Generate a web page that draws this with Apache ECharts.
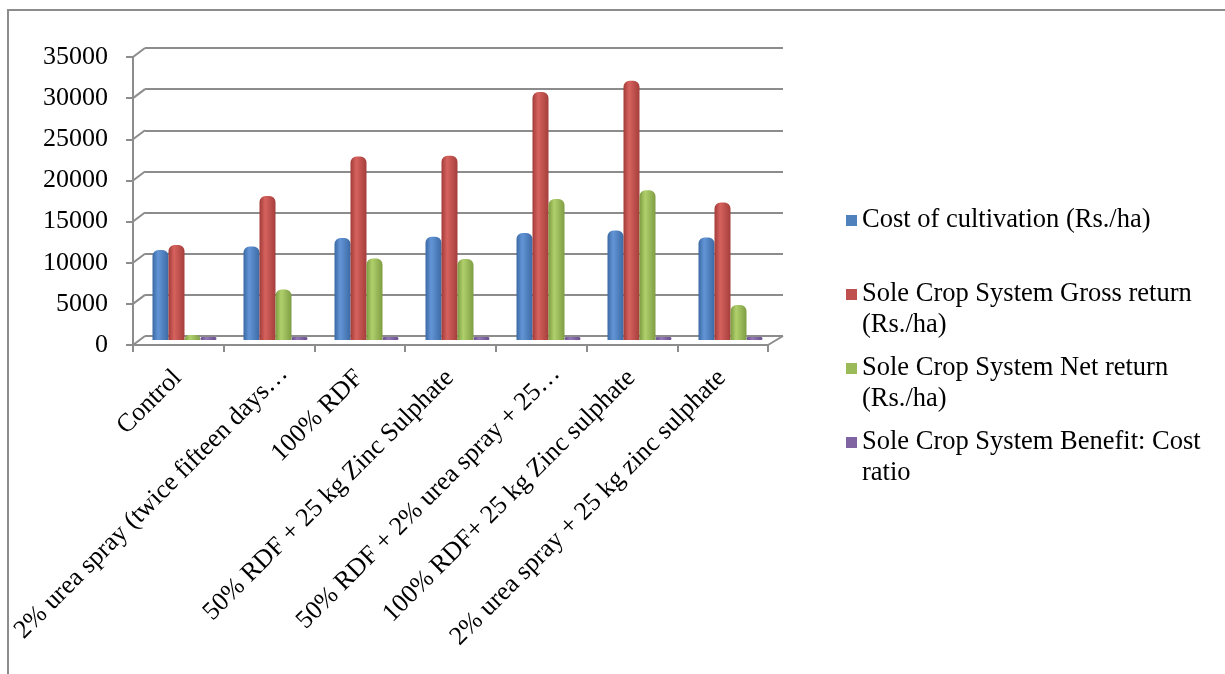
<!DOCTYPE html>
<html>
<head>
<meta charset="utf-8">
<title>Economics of treatments</title>
<script src="https://cdn.jsdelivr.net/npm/echarts@6/dist/echarts.min.js"></script>
<style>
    html, body { margin: 0; padding: 0; background: #fff; }
    #main { width: 1225px; height: 674px; }
</style>
</head>
<body>
<div id="main"></div>
<script>
// 处理
const categories = [
    'Control',
    '2% urea spray (twice fifteen days…',
    '100% RDF',
    '50% RDF + 25 kg Zinc Sulphate',
    '50% RDF + 2% urea spray + 25…',
    '100% RDF+ 25 kg Zinc sulphate',
    '2% urea spray + 25 kg zinc sulphate',
];
// 图例名称
const seriesNames = [
    'Cost of cultivation (Rs./ha)',
    'Sole Crop System Gross return (Rs./ha)',
    'Sole Crop System Net return (Rs./ha)',
    'Sole Crop System Benefit: Cost ratio',
];
// 数值
const costOfCultivation = [10950, 11350, 12400, 12550, 13000, 13300, 12450];
const grossReturn = [11550, 17500, 22300, 22400, 30150, 31500, 16700];
const netReturn = [600, 6150, 9900, 9850, 17150, 18200, 4250];
const benefitCostRatio = [1.05, 1.54, 1.8, 1.78, 2.32, 2.37, 1.34];
const yTicks = { min: 0, max: 35000, interval: 5000 };

const legendLabels = {
    'Cost of cultivation (Rs./ha)': 'Cost of cultivation (Rs./ha)\n ',
    'Sole Crop System Gross return (Rs./ha)': 'Sole Crop System Gross return\n(Rs./ha)',
    'Sole Crop System Net return (Rs./ha)': 'Sole Crop System Net return\n(Rs./ha)',
    'Sole Crop System Benefit: Cost ratio': 'Sole Crop System Benefit: Cost\nratio',
};

const flat = ['#4f81bd', '#c0504d', '#9bbb59', '#8064a2'];
const shades = [
    ['#3a68a3', '#6395d6', '#3c6aa5'],
    ['#a13b38', '#d6625e', '#a53e3b'],
    ['#7c9a40', '#b0d06c', '#7f9d43'],
    ['#65498a', '#9479b8', '#684c8d'],
];

function cylinder(i) {
    return new echarts.graphic.LinearGradient(0, 0, 1, 0, [
        { offset: 0, color: shades[i][0] },
        { offset: 0.35, color: shades[i][1] },
        { offset: 1, color: shades[i][2] },
    ]);
}

const font = 'Liberation Serif, Times New Roman, serif';
const gray = '#8c8c8c';
const labelText = { color: '#000', fontFamily: font, fontSize: 26 };

// 前、中、后三层网格模拟三维效果
const FRONT = { left: 133, top: 57, width: 635, height: 288 };
const MID = { left: 139, top: 52, width: 637, height: 288 };
const BACK = { left: 145, top: 48, width: 638, height: 288 };

const instance = echarts.init(document.querySelector('#main'));

const seriesData = [costOfCultivation, grossReturn, netReturn, benefitCostRatio];

instance.setOption({
    animation: false,
    textStyle: { fontFamily: font },
    grid: [FRONT, MID, BACK].map(g => Object.assign({ containLabel: false, outerBoundsMode: 'none' }, g)),
    legend: {
        orient: 'vertical',
        left: 846,
        top: 204,
        padding: 0,
        itemGap: 10,
        itemWidth: 11,
        itemHeight: 64,
        icon: 'path://M0,0M0,11h11v11h-11ZM11,64',
        textStyle: {
            fontFamily: font,
            fontSize: 26.5,
            lineHeight: 31,
            color: '#000',
        },
        formatter: name => legendLabels[name],
        data: seriesNames.map((n, i) => ({ name: n, itemStyle: { color: flat[i] } })),
    },
    xAxis: [
        {
            gridIndex: 0,
            type: 'category',
            data: categories,
            axisLine: { lineStyle: { color: gray, width: 2 } },
            axisTick: { show: true, length: 7, lineStyle: { color: gray, width: 2 } },
            axisLabel: Object.assign({
                interval: 0,
                rotate: 45,
                margin: 10,
                verticalAlign: 'top',
                // 截断的标签位置略有不同
                formatter: v => v.endsWith('…') ? `{t|${ v }}` : `{n|${ v }}`,
                rich: {
                    n: Object.assign({ padding: [0, 14, 0, 0] }, labelText),
                    t: Object.assign({ padding: [8, 0, 0, 0] }, labelText),
                },
            }, labelText),
        },
        {
            gridIndex: 1,
            type: 'category',
            data: categories,
            show: false,
        },
        {
            gridIndex: 2,
            type: 'category',
            data: categories,
            axisLine: { show: false },
            axisTick: { show: false },
            axisLabel: { show: false },
        },
    ],
    yAxis: [
        Object.assign({
            gridIndex: 0,
            type: 'value',
            axisLine: { show: true, lineStyle: { color: gray, width: 2 } },
            axisTick: { show: true, length: 7, lineStyle: { color: gray, width: 2 } },
            splitLine: { show: false },
            axisLabel: Object.assign({
                margin: 25,
                formatter: v => String(v),
            }, labelText),
        }, yTicks),
        Object.assign({
            gridIndex: 1,
            type: 'value',
            show: false,
            splitLine: { show: false },
        }, yTicks),
        Object.assign({
            gridIndex: 2,
            type: 'value',
            axisLine: { show: false },
            axisTick: { show: false },
            axisLabel: { show: false },
            splitLine: { show: true, lineStyle: { color: gray, width: 2 } },
        }, yTicks),
    ],
    series: seriesData.map((d, i) => ({
        name: seriesNames[i],
        type: 'bar',
        xAxisIndex: 1,
        yAxisIndex: 1,
        data: d,
        barWidth: 16,
        barGap: '0%',
        barMinHeight: i === 3 ? 3 : 0,
        itemStyle: {
            color: cylinder(i),
            borderRadius: i === 3 ? 2 : [6, 6, 0, 0],
        },
    })),
});

// 左侧斜线与地板右侧边线
function connectors() {
    const lines = [];
    for (let v = yTicks.min; v <= yTicks.max; v += yTicks.interval) {
        const yf = instance.convertToPixel({ yAxisIndex: 0 }, v);
        const yb = instance.convertToPixel({ yAxisIndex: 2 }, v);
        lines.push({
            type: 'line',
            shape: { x1: FRONT.left, y1: yf, x2: BACK.left, y2: yb },
            style: { stroke: gray, lineWidth: 2 },
            silent: true,
        });
    }
    const yf0 = instance.convertToPixel({ yAxisIndex: 0 }, 0);
    const yb0 = instance.convertToPixel({ yAxisIndex: 2 }, 0);
    lines.push({
        type: 'line',
        shape: {
            x1: FRONT.left + FRONT.width, y1: yf0,
            x2: BACK.left + BACK.width, y2: yb0,
        },
        style: { stroke: gray, lineWidth: 2 },
        silent: true,
    });
    // 外框
    lines.push({
        type: 'rect',
        shape: { x: 8, y: 10, width: 1300, height: 700 },
        style: { fill: null, stroke: gray, lineWidth: 2 },
        silent: true,
    });
    instance.setOption({ graphic: lines });
}

connectors();
</script>
</body>
</html>
